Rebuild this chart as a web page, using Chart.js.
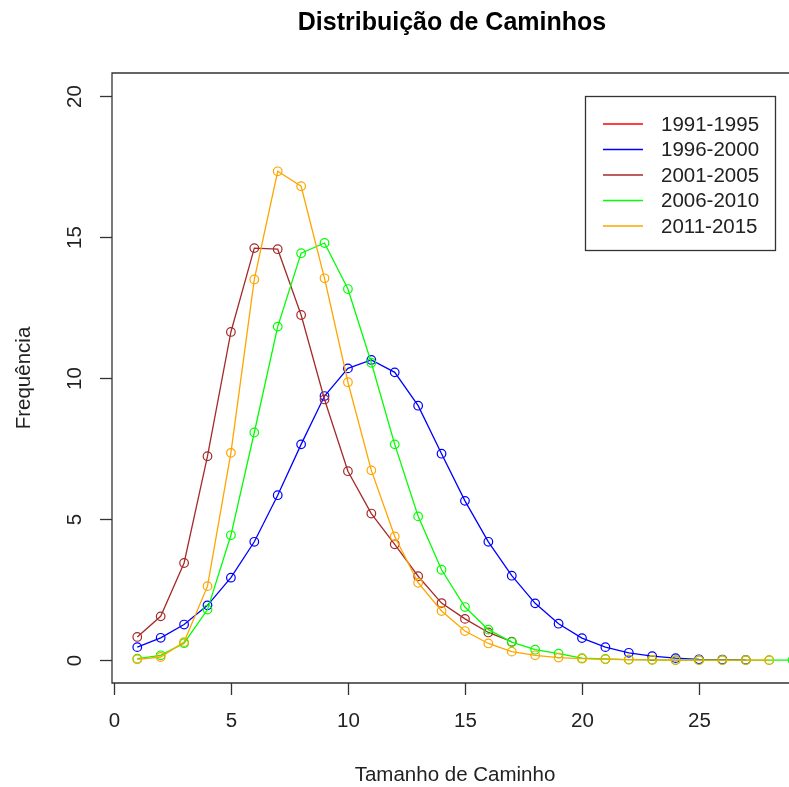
<!DOCTYPE html>
<html><head><meta charset="utf-8">
<script src="https://cdn.jsdelivr.net/npm/chart.js@4/dist/chart.umd.min.js"></script>
<style>
html,body{margin:0;padding:0;background:#fff;overflow:hidden;width:789px;height:787px}
#wrap{position:relative;width:800px;height:787px}
</style>
</head><body>
<div id="wrap"><canvas id="c" width="800" height="787"></canvas></div>
<script>
// ---- data ----
const pathLength = [1,2,3,4,5,6,7,8,9,10,11,12,13,14,15,16,17,18,19,20,21,22,23,24,25,26,27,28,29,30];
const seriesLabels = ["1991-1995","1996-2000","2001-2005","2006-2010","2011-2015"];
const freq1991 = [];
const freq1996 = [0.47,0.80,1.27,1.95,2.93,4.20,5.85,7.65,9.36,10.34,10.64,10.20,9.02,7.32,5.65,4.20,3.00,2.02,1.30,0.79,0.47,0.27,0.15,0.08,0.04,0.03,0.02];
const freq2001 = [0.83,1.56,3.45,7.23,11.63,14.60,14.56,12.23,9.24,6.70,5.20,4.11,2.98,2.03,1.47,0.99,0.66];
const freq2006 = [0.06,0.18,0.61,1.80,4.43,8.07,11.82,14.42,14.78,13.15,10.54,7.65,5.10,3.21,1.89,1.09,0.65,0.38,0.24,0.08,0.05,0.03,0.02,0.01,0.01,0.01,0.01,0.01,0.01,0.01];
const freq2011 = [0.04,0.12,0.65,2.63,7.35,13.49,17.32,16.79,13.53,9.85,6.73,4.39,2.75,1.75,1.04,0.60,0.31,0.18,0.10,0.06,0.04,0.03,0.02,0.01,0.01,0.01,0.01,0.01];
const xTicks = [0,5,10,15,20,25];
const yTicks = [0,5,10,15,20];
const titleText = "Distribuição de Caminhos";
const xTitle = "Tamanho de Caminho";
const yTitle = "Frequência";

const colors = ["#FF0000","#0000FF","#A52A2A","#00FF00","#FFA500"];
const allSeries = [freq1991,freq1996,freq2001,freq2006,freq2011];
const FONT = '"Liberation Sans", Arial, sans-serif';

function pts(vals){ return vals.map((v,i)=>({x:pathLength[i], y:v})); }

const datasets = allSeries.map((vals,i)=>({
  label: seriesLabels[i],
  data: pts(vals),
  borderColor: colors[i],
  backgroundColor: 'rgba(0,0,0,0)',
  borderWidth: 1.3,
  pointRadius: 4.3,
  pointBorderWidth: 1.2,
  pointBackgroundColor: 'rgba(0,0,0,0)',
  pointBorderColor: colors[i],
  tension: 0,
  order: allSeries.length - i
}));

const rAxes = {
  id: 'rAxes',
  afterDraw(chart){
    const ctx = chart.ctx, a = chart.chartArea;
    const xs = chart.scales.x, ys = chart.scales.y;
    ctx.save();
    ctx.strokeStyle = '#333'; ctx.lineWidth = 1.3;
    // box
    ctx.beginPath();
    ctx.rect(a.left, a.top, a.right - a.left, a.bottom - a.top);
    ctx.stroke();
    // x ticks
    ctx.fillStyle = '#222';
    ctx.font = '20.5px ' + FONT;
    ctx.textAlign = 'center'; ctx.textBaseline = 'middle';
    xTicks.forEach(t=>{
      const px = Math.round(xs.getPixelForValue(t)) + 0.5;
      ctx.beginPath(); ctx.moveTo(px, a.bottom); ctx.lineTo(px, a.bottom + 12); ctx.stroke();
      ctx.fillText(String(t), px, 721);
    });
    // y ticks
    yTicks.forEach(t=>{
      const py = Math.round(ys.getPixelForValue(t)) + 0.5;
      ctx.beginPath(); ctx.moveTo(a.left, py); ctx.lineTo(a.left - 12, py); ctx.stroke();
      ctx.save(); ctx.translate(75, py); ctx.rotate(-Math.PI/2);
      ctx.fillText(String(t), 0, 0); ctx.restore();
    });
    // axis titles
    ctx.fillText(xTitle, 455, 775);
    ctx.save(); ctx.translate(24, 378); ctx.rotate(-Math.PI/2);
    ctx.fillText(yTitle, 0, 0); ctx.restore();
    // main title
    ctx.fillStyle = '#000';
    ctx.font = 'bold 25px ' + FONT;
    ctx.fillText(titleText, 452, 23);
    // legend
    const lx = 585, ly = 96, lw = 190, lh = 154;
    ctx.strokeStyle = '#333'; ctx.lineWidth = 1.3;
    ctx.fillStyle = '#fff';
    ctx.fillRect(lx, ly, lw, lh);
    ctx.strokeRect(lx + 0.5, ly + 0.5, lw, lh);
    ctx.font = '20.5px ' + FONT;
    ctx.textAlign = 'left';
    chart.data.datasets.forEach((ds,i)=>{
      const y = 124 + i*25.5;
      ctx.strokeStyle = ds.borderColor; ctx.lineWidth = 1.3;
      ctx.beginPath(); ctx.moveTo(603, y); ctx.lineTo(643, y); ctx.stroke();
      ctx.fillStyle = '#222';
      ctx.fillText(ds.label, 661, y + 1);
    });
    ctx.restore();
  }
};

new Chart(document.getElementById('c'), {
  type: 'line',
  data: { datasets },
  options: {
    responsive: false,
    animation: false,
    devicePixelRatio: 1,
    layout: { padding: { left: 112, top: 73, right: 4, bottom: 104 } },
    plugins: { legend: { display: false }, title: { display: false }, tooltip: { enabled: false } },
    scales: {
      x: { type: 'linear', min: -0.08, max: 29.08, display: false },
      y: { type: 'linear', min: -0.8, max: 20.8, display: false }
    }
  },
  plugins: [rAxes]
});
</script>
</body></html>
